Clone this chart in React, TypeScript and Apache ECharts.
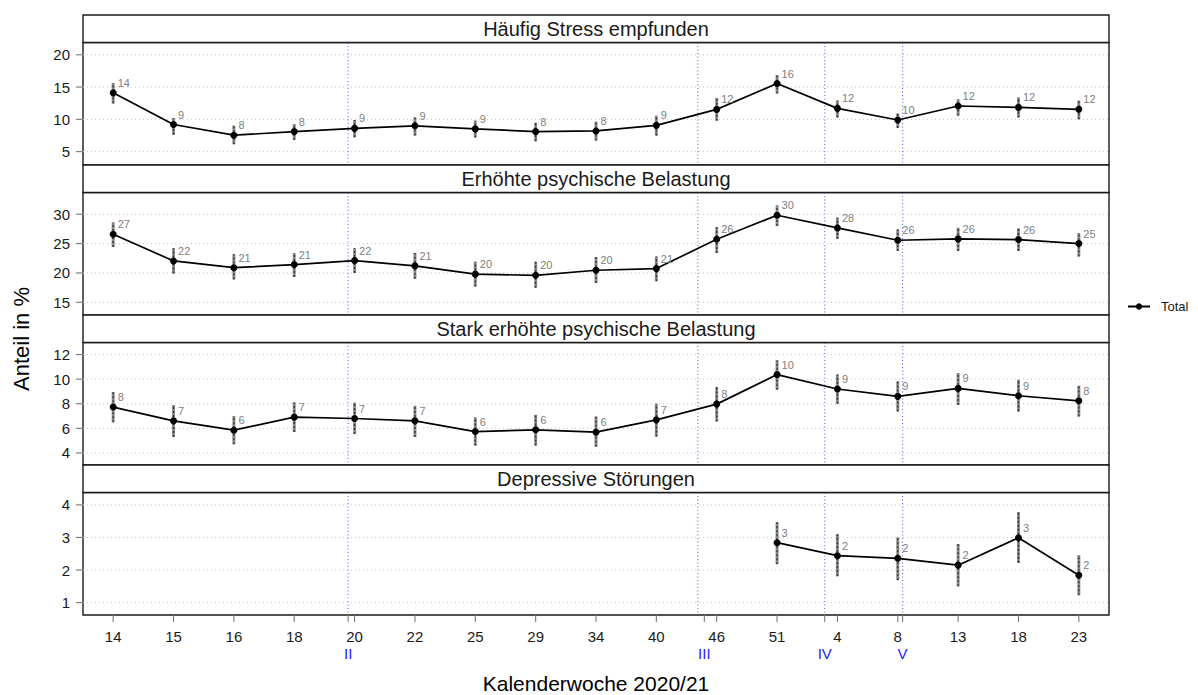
import { useEffect, useRef } from "react";
import * as echarts from "echarts";

// Calendar weeks on the x axis (2020 then 2021)
const weeks = ["14", "15", "16", "18", "20", "22", "25", "29", "34", "40", "46", "51", "4", "8", "13", "18", "23"];

// Survey waves: label position and dividing line position (in week-index units)
const waveLabels = ["II", "III", "IV", "V"];
const waveLabelPos = [3.893, 9.795, 11.79, 13.08];
const waveLinePos = [3.893, 9.687, 11.79, 13.08];

const panelTitles = [
  "Häufig Stress empfunden",
  "Erhöhte psychische Belastung",
  "Stark erhöhte psychische Belastung",
  "Depressive Störungen",
];

// Häufig Stress empfunden
const stressValues = [14.1, 9.2, 7.55, 8.1, 8.6, 9.0, 8.52, 8.1, 8.2, 9.07, 11.54, 15.55, 11.7, 9.9, 12.07, 11.85, 11.55];
const stressLow = [12.47, 7.6, 6.14, 6.82, 7.22, 7.48, 7.2, 6.6, 6.71, 7.48, 9.8, 14.0, 10.3, 8.67, 10.57, 10.3, 10.0];
const stressHigh = [15.62, 10.2, 9.03, 9.29, 9.9, 10.3, 9.8, 9.49, 9.65, 10.57, 13.3, 16.85, 12.9, 10.93, 13.1, 13.4, 12.9];

// Erhöhte psychische Belastung
const distressValues = [26.6, 22.05, 20.9, 21.43, 22.1, 21.2, 19.8, 19.6, 20.46, 20.74, 25.74, 29.83, 27.67, 25.57, 25.8, 25.69, 25.0];
const distressLow = [24.4, 19.9, 18.9, 19.3, 20.0, 19.0, 17.7, 17.5, 18.3, 18.6, 23.4, 28.0, 25.8, 23.75, 23.75, 23.75, 22.8];
const distressHigh = [28.6, 24.2, 23.2, 23.4, 24.2, 23.4, 21.9, 21.9, 22.7, 22.8, 27.8, 31.5, 29.4, 27.4, 27.7, 27.6, 26.8];

// Stark erhöhte psychische Belastung
const severeValues = [7.73, 6.61, 5.85, 6.91, 6.8, 6.61, 5.74, 5.88, 5.69, 6.69, 7.97, 10.37, 9.2, 8.6, 9.25, 8.65, 8.24];
const severeLow = [6.5, 5.3, 4.7, 5.7, 5.55, 5.3, 4.6, 4.6, 4.5, 5.33, 6.56, 9.14, 8.0, 7.37, 7.9, 7.37, 6.96];
const severeHigh = [8.95, 7.9, 7.0, 8.1, 8.1, 7.84, 6.9, 7.1, 6.96, 8.0, 9.36, 11.53, 10.37, 9.82, 10.5, 9.96, 9.47];

// Depressive Störungen (only measured from week 51 on)
const depressionValues = [null, null, null, null, null, null, null, null, null, null, null, 2.84, 2.44, 2.36, 2.15, 2.99, 1.84];
const depressionLow = [null, null, null, null, null, null, null, null, null, null, null, 2.18, 1.81, 1.69, 1.5, 2.22, 1.23];
const depressionHigh = [null, null, null, null, null, null, null, null, null, null, null, 3.47, 3.1, 3.0, 2.8, 3.78, 2.46];

const yMin = [2.93, 12.84, 3.02, 0.62];
const yMax = [21.9, 33.7, 12.98, 4.38];
const yTicks = [
  [5, 10, 15, 20],
  [15, 20, 25, 30],
  [4, 6, 8, 10, 12],
  [1, 2, 3, 4],
];

const panelValues = [stressValues, distressValues, severeValues, depressionValues];
const panelLow = [stressLow, distressLow, severeLow, depressionLow];
const panelHigh = [stressHigh, distressHigh, severeHigh, depressionHigh];

const FONT = "Liberation Sans, Arial, Helvetica, sans-serif";
const LEFT = 83;
const WIDTH = 1026;
const FIRST_TOP = 15;
const STEP = 150;
const STRIP_H = 27.5;
const PANEL_H = 122.5;
const TICK_LEN = 7;
const TICK_COLOR = "#7a7a7a";

function buildOption() {
  const weekIdx = weeks.map((_, i) => i);
  const xTickVals = [...weekIdx, ...waveLabelPos];

  const xLabelFormatter = (v: number) => {
    for (let k = 0; k < waveLabelPos.length; k++) {
      if (Math.abs(v - waveLabelPos[k]) < 0.005) return "\n{w|" + waveLabels[k] + "}";
    }
    const r = Math.round(v);
    return Math.abs(v - r) < 0.005 ? weeks[r] : "";
  };

  const grids: any[] = [];
  const xAxes: any[] = [];
  const yAxes: any[] = [];
  const series: any[] = [];
  const graphics: any[] = [];

  panelTitles.forEach((title, i) => {
    const stripTop = FIRST_TOP + i * STEP;
    const gridTop = stripTop + STRIP_H;

    grids.push({
      left: LEFT,
      width: WIDTH,
      top: gridTop,
      height: PANEL_H,
      show: true,
      backgroundColor: "#ffffff",
      borderColor: "#1a1a1a",
      borderWidth: 1.4,
      containLabel: false,
      outerBoundsMode: "none",
    });

    const isBottom = i === panelTitles.length - 1;
    xAxes.push({
      type: "value",
      gridIndex: i,
      min: -0.5,
      max: 16.5,
      show: isBottom,
      axisLine: { show: false, onZero: false },
      splitLine: { show: false },
      axisTick: { show: false },
      axisLabel: {
        customValues: xTickVals,
        formatter: xLabelFormatter,
        margin: 13,
        fontSize: 15,
        lineHeight: 17,
        color: "#1a1a1a",
        fontFamily: FONT,
        rich: {
          w: { color: "#2222ff", fontSize: 15, lineHeight: 17, fontFamily: FONT },
        },
      },
    });

    yAxes.push({
      type: "value",
      gridIndex: i,
      min: yMin[i],
      max: yMax[i],
      axisLine: { show: false, onZero: false },
      splitLine: { show: false },
      axisTick: { show: false },
      axisLabel: {
        customValues: yTicks[i],
        margin: 13,
        fontSize: 15,
        color: "#1a1a1a",
        fontFamily: FONT,
      },
    });

    const vals = panelValues[i];
    const lows = panelLow[i];
    const highs = panelHigh[i];

    const pointData = vals
      .map((v, k) => (v == null ? null : [k, v]))
      .filter((d) => d != null);
    const barData = vals
      .map((v, k) => (v == null || lows[k] == null || highs[k] == null ? null : [k, lows[k], highs[k]]))
      .filter((d) => d != null);

    // dotted horizontal grid lines and outer tick marks at the y ticks
    series.push({
      type: "custom",
      name: "grid" + i,
      xAxisIndex: i,
      yAxisIndex: i,
      silent: true,
      clip: false,
      z: 1,
      data: yTicks[i].map((t) => [0, t]),
      encode: { x: 0, y: 1 },
      renderItem: (params: any, api: any) => {
        const cs = params.coordSys;
        const y = api.coord([0, api.value(1)])[1];
        return {
          type: "group",
          children: [
            {
              type: "line",
              shape: { x1: cs.x, y1: y, x2: cs.x + cs.width, y2: y },
              style: { stroke: "#c4c4c4", lineWidth: 1, lineDash: [1, 3] },
            },
            {
              type: "line",
              shape: { x1: cs.x - TICK_LEN, y1: y, x2: cs.x, y2: y },
              style: { stroke: TICK_COLOR, lineWidth: 1.1 },
            },
          ],
        };
      },
    });

    // outer tick marks below the bottom panel
    if (isBottom) {
      series.push({
        type: "custom",
        name: "xticks",
        xAxisIndex: i,
        yAxisIndex: i,
        silent: true,
        clip: false,
        z: 1,
        data: xTickVals.map((v) => [v, yMin[i]]),
        encode: { x: 0, y: 1 },
        renderItem: (params: any, api: any) => {
          const cs = params.coordSys;
          const x = api.coord([api.value(0), yMin[i]])[0];
          const yb = cs.y + cs.height;
          return {
            type: "line",
            shape: { x1: x, y1: yb, x2: x, y2: yb + TICK_LEN },
            style: { stroke: TICK_COLOR, lineWidth: 1.1 },
          };
        },
      });
    }

    // dotted vertical lines between survey waves
    series.push({
      type: "custom",
      name: "wave" + i,
      xAxisIndex: i,
      yAxisIndex: i,
      silent: true,
      z: 1,
      data: waveLinePos.map((x) => [x, yMin[i]]),
      encode: { x: 0, y: 1 },
      renderItem: (params: any, api: any) => {
        const cs = params.coordSys;
        const x = api.coord([api.value(0), yMin[i]])[0];
        return {
          type: "line",
          shape: { x1: x, y1: cs.y, x2: x, y2: cs.y + cs.height },
          style: { stroke: "#6666ff", lineWidth: 1.1, lineDash: [1, 2.5] },
        };
      },
    });

    // confidence intervals
    series.push({
      type: "custom",
      name: "ci" + i,
      xAxisIndex: i,
      yAxisIndex: i,
      silent: true,
      z: 2,
      data: barData,
      encode: { x: 0, y: [1, 2] },
      renderItem: (params: any, api: any) => {
        const x = api.value(0);
        const p1 = api.coord([x, api.value(1)]);
        const p2 = api.coord([x, api.value(2)]);
        const shape = { x1: p1[0], y1: p1[1], x2: p2[0], y2: p2[1] };
        return {
          type: "group",
          children: [
            { type: "line", shape, style: { stroke: "#8c8c8c", lineWidth: 3 } },
            { type: "line", shape, style: { stroke: "#303030", lineWidth: 1.3, lineDash: [2, 2] } },
          ],
        };
      },
    });

    series.push({
      type: "line",
      name: "Total",
      xAxisIndex: i,
      yAxisIndex: i,
      data: pointData,
      symbol: "circle",
      symbolSize: 7,
      z: 3,
      lineStyle: { color: "#000000", width: 1.7 },
      itemStyle: { color: "#000000" },
      label: {
        show: true,
        position: "right",
        distance: 1,
        offset: [0, -10],
        color: "#808080",
        textBorderWidth: 0,
        fontSize: 11,
        fontFamily: FONT,
        formatter: (p: any) => String(Math.round(p.value[1])),
      },
    });

    graphics.push({
      type: "rect",
      shape: { x: LEFT, y: stripTop, width: WIDTH, height: STRIP_H },
      style: { fill: "#ffffff", stroke: "#1a1a1a", lineWidth: 1.4 },
      z: 10,
    });
    graphics.push({
      type: "text",
      x: LEFT + WIDTH / 2,
      y: stripTop + STRIP_H / 2 + 0.5,
      style: {
        text: title,
        fontSize: 20,
        fontFamily: FONT,
        fill: "#1a1a1a",
        textAlign: "center",
        textVerticalAlign: "middle",
      },
      z: 11,
    });
  });

  graphics.push({
    type: "text",
    x: LEFT + WIDTH / 2,
    y: 683,
    style: {
      text: "Kalenderwoche 2020/21",
      fontSize: 21,
      fontFamily: FONT,
      fill: "#000000",
      textAlign: "center",
      textVerticalAlign: "middle",
    },
  });
  graphics.push({
    type: "text",
    x: 21,
    y: 339,
    rotation: Math.PI / 2,
    style: {
      text: "Anteil in %",
      fontSize: 22,
      fontFamily: FONT,
      fill: "#000000",
      textAlign: "center",
      textVerticalAlign: "middle",
    },
  });

  return {
    animation: false,
    backgroundColor: "#ffffff",
    textStyle: { fontFamily: FONT },
    grid: grids,
    xAxis: xAxes,
    yAxis: yAxes,
    series,
    graphic: graphics,
    legend: {
      data: ["Total"],
      left: 1122,
      top: 295,
      selectedMode: false,
      itemWidth: 22,
      itemHeight: 8,
      textStyle: { fontSize: 13, color: "#1a1a1a", fontFamily: FONT, padding: [0, 0, 0, 6] },
    },
  };
}

export default function App() {
  const ref = useRef<HTMLDivElement>(null);

  useEffect(() => {
    if (!ref.current) return;
    const chart = echarts.init(ref.current, undefined, { renderer: "svg" });
    chart.setOption(buildOption() as any);
    return () => chart.dispose();
  }, []);

  return (
    <div
      ref={ref}
      style={{ position: "absolute", left: 0, top: 0, width: 1198, height: 695, background: "#ffffff" }}
    />
  );
}
